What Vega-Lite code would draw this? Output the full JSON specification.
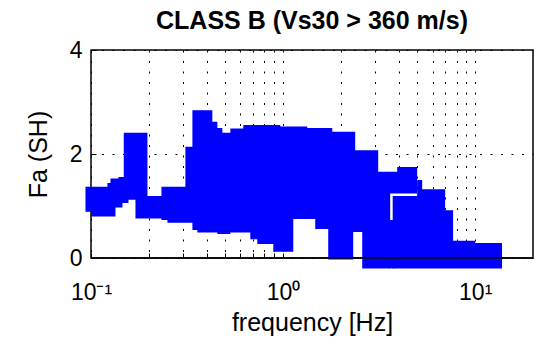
{
  "$schema": "https://vega.github.io/schema/vega-lite/v6.json",
  "width": 442,
  "height": 208,
  "autosize": "none",
  "padding": {"left": 91, "top": 50, "right": 2, "bottom": 83},
  "background": "white",
  "config": {
    "view": {"stroke": "#000", "strokeWidth": 1.5},
    "font": "Liberation Sans"
  },
  "title": {
    "text": "CLASS B (Vs30 > 360 m/s)",
    "font": "Liberation Sans",
    "fontSize": 25,
    "fontWeight": "bold",
    "color": "#000",
    "anchor": "middle",
    "frame": "group",
    "offset": 5
  },
  "layer": [
    {
      "data": {
        "values": [
          {"part": "A", "f": 0.0936, "lo": 0.89, "hi": 1.37},
          {"part": "A", "f": 0.1, "lo": 0.8, "hi": 1.37},
          {"part": "A", "f": 0.1218, "lo": 0.8, "hi": 1.44},
          {"part": "A", "f": 0.1263, "lo": 0.8, "hi": 1.53},
          {"part": "A", "f": 0.1341, "lo": 0.97, "hi": 1.53},
          {"part": "A", "f": 0.139, "lo": 0.97, "hi": 1.56},
          {"part": "A", "f": 0.1458, "lo": 1.06, "hi": 1.56},
          {"part": "A", "f": 0.1481, "lo": 1.06, "hi": 2.41},
          {"part": "A", "f": 0.1567, "lo": 1.12, "hi": 2.41},
          {"part": "A", "f": 0.1704, "lo": 0.76, "hi": 2.41},
          {"part": "A", "f": 0.1967, "lo": 0.76, "hi": 1.19},
          {"part": "A", "f": 0.2327, "lo": 0.73, "hi": 1.37},
          {"part": "A", "f": 0.25, "lo": 0.68, "hi": 1.37},
          {"part": "A", "f": 0.31, "lo": 0.68, "hi": 2.14},
          {"part": "A", "f": 0.3372, "lo": 0.54, "hi": 2.84},
          {"part": "A", "f": 0.3579, "lo": 0.49, "hi": 2.84},
          {"part": "A", "f": 0.4283, "lo": 0.49, "hi": 2.62},
          {"part": "A", "f": 0.4548, "lo": 0.46, "hi": 2.5},
          {"part": "A", "f": 0.4829, "lo": 0.46, "hi": 2.41},
          {"part": "A", "f": 0.5313, "lo": 0.49, "hi": 2.49},
          {"part": "A", "f": 0.6209, "lo": 0.49, "hi": 2.56},
          {"part": "A", "f": 0.6751, "lo": 0.36, "hi": 2.56},
          {"part": "A", "f": 0.7341, "lo": 0.27, "hi": 2.56},
          {"part": "A", "f": 0.8893, "lo": 0.12, "hi": 2.56},
          {"part": "A", "f": 0.9669, "lo": 0.12, "hi": 2.53},
          {"part": "A", "f": 1.13, "lo": 0.75, "hi": 2.53},
          {"part": "A", "f": 1.336, "lo": 0.75, "hi": 2.5},
          {"part": "A", "f": 1.47, "lo": 0.56, "hi": 2.5},
          {"part": "A", "f": 1.718, "lo": -0.03, "hi": 2.5},
          {"part": "A", "f": 1.803, "lo": -0.03, "hi": 2.43},
          {"part": "A", "f": 2.318, "lo": 0.5, "hi": 2.43},
          {"part": "A", "f": 2.374, "lo": 0.5, "hi": 2.07},
          {"part": "A", "f": 2.582, "lo": -0.2, "hi": 2.07},
          {"part": "A", "f": 3.127, "lo": -0.2, "hi": 1.66},
          {"part": "A", "f": 3.61, "lo": 1.24, "hi": 1.66},
          {"part": "A", "f": 3.926, "lo": 1.24, "hi": 1.75},
          {"part": "A", "f": 4.989, "lo": 1.24, "hi": 1.75},
          {"part": "B", "f": 3.72, "lo": -0.2, "hi": 1.19},
          {"part": "B", "f": 4.989, "lo": -0.2, "hi": 1.5},
          {"part": "B", "f": 5.297, "lo": -0.2, "hi": 1.32},
          {"part": "B", "f": 6.975, "lo": -0.2, "hi": 0.92},
          {"part": "B", "f": 7.675, "lo": -0.2, "hi": 0.33},
          {"part": "B", "f": 9.99, "lo": -0.2, "hi": 0.29},
          {"part": "B", "f": 13.8, "lo": -0.2, "hi": 0.29},
          {"part": "C", "f": 3.567, "lo": -0.2, "hi": 0.73},
          {"part": "C", "f": 3.787, "lo": -0.2, "hi": 0.73}
        ]
      },
      "mark": {"type": "area", "interpolate": "step-after", "color": "#0000ff", "clip": false},
      "encoding": {
        "x": {
          "field": "f",
          "type": "quantitative",
          "scale": {"type": "log", "domain": [0.1, 20], "nice": false},
          "axis": {
            "values": [0.1, 0.2, 0.3, 0.4, 0.5, 0.6, 0.7, 0.8, 0.9, 1, 2, 3, 4, 5, 6, 7, 8, 9, 10],
            "labelExpr": "datum.value == 0.1 ? '10⁻¹' : datum.value == 1 ? '10⁰' : datum.value == 10 ? '10¹' : ''",
            "labelOverlap": false,
            "labelFlush": false,
            "labelFontSize": 23,
            "labelColor": "#000",
            "labelBaseline": "alphabetic",
            "labelPadding": 46,
            "tickSize": -5,
            "tickColor": "#000",
            "domain": false,
            "grid": true,
            "gridColor": "#000",
            "gridDash": [2, 8.5],
            "gridOpacity": 1,
            "title": "frequency [Hz]",
            "titleFontSize": 25,
            "titleFontWeight": "normal",
            "titleColor": "#000",
            "titlePadding": 6
          }
        },
        "y": {
          "field": "lo",
          "type": "quantitative",
          "scale": {"domain": [0, 4], "nice": false},
          "axis": {
            "values": [0, 2, 4],
            "format": "d",
            "labelFontSize": 23,
            "labelColor": "#000",
            "labelPadding": 14,
            "labelBaseline": "middle",
            "tickSize": -5,
            "tickColor": "#000",
            "domain": false,
            "grid": true,
            "gridColor": "#000",
            "gridDash": [2, 8.5],
            "gridOpacity": 1,
            "title": "Fa (SH)",
            "titleFontSize": 25,
            "titleFontWeight": "normal",
            "titleColor": "#000",
            "titlePadding": 18
          }
        },
        "y2": {"field": "hi"},
        "detail": {"field": "part"}
      }
    },
    {
      "data": {"values": [{}]},
      "mark": {"type": "rule", "color": "#000", "strokeWidth": 1.5},
      "encoding": {"y": {"datum": 0}}
    }
  ]
}
